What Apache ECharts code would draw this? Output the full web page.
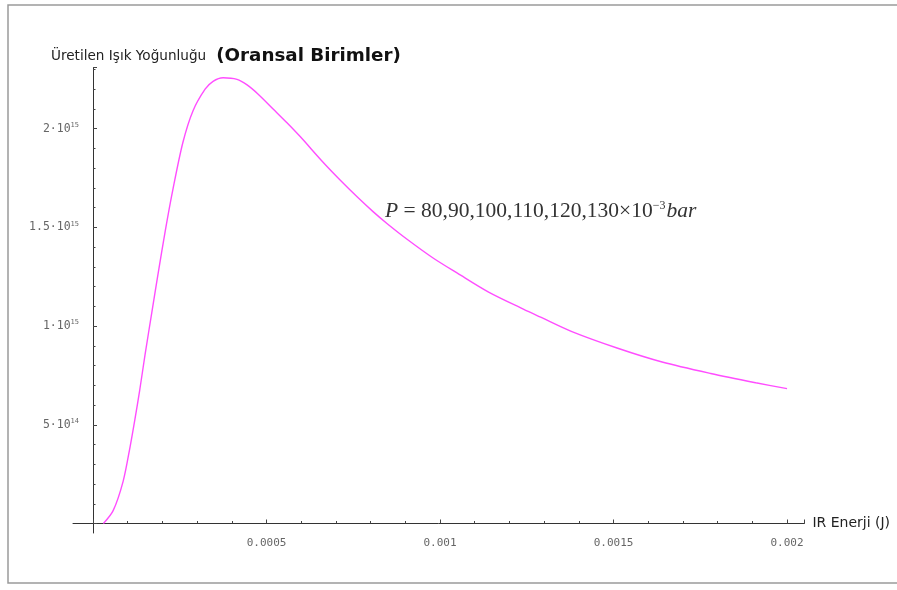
<!DOCTYPE html>
<html>
<head>
<meta charset="utf-8">
<script src="https://cdn.jsdelivr.net/npm/echarts@6/dist/echarts.min.js"></script>
<style>
  html, body { margin: 0; padding: 0; background: #fff; }
  #chart { width: 897px; height: 590px; }
</style>
</head>
<body>
<div id="chart"></div>
<script>
// IR energy (J) at each sampled point
const energyJ = [
  0.00003, 0.000058, 0.000087, 0.000107, 0.000121, 0.000135, 0.00015, 0.00017,
  0.000187, 0.000208, 0.00023, 0.000259, 0.000288, 0.000323, 0.000346, 0.000375,
  0.000415, 0.000444, 0.000476, 0.000519, 0.000559, 0.000597, 0.000663, 0.000712,
  0.000761, 0.000807, 0.000847, 0.000905, 0.00098, 0.00105, 0.00114, 0.00124,
  0.00129, 0.00138, 0.00151, 0.00164, 0.00178, 0.00191, 0.002
];
// Generated light intensity (relative units)
const intensity = [
  0, 0.065e15, 0.215e15, 0.39e15, 0.53e15, 0.68e15, 0.855e15, 1.075e15,
  1.26e15, 1.48e15, 1.69e15, 1.93e15, 2.09e15, 2.20e15, 2.24e15, 2.258e15,
  2.25e15, 2.222e15, 2.175e15, 2.10e15, 2.03e15, 1.96e15, 1.83e15, 1.74e15,
  1.655e15, 1.58e15, 1.52e15, 1.44e15, 1.345e15, 1.268e15, 1.172e15, 1.086e15,
  1.045e15, 0.972e15, 0.889e15, 0.818e15, 0.76e15, 0.713e15, 0.683e15
];

const xTickStep = 0.0005;
const yTickStep = 0.5e15;
const xMax = 0.00205;
const yMax = 2.31e15;

const yAxisTitle = 'Üretilen Işık Yoğunluğu';
const yAxisUnit = '(Oransal Birimler)';
const xAxisTitle = 'IR Enerji (J)';
const pressureNote = ['P', ' = 80,90,100,110,120,130×10', '−3', 'bar'];

const curve = energyJ.map((e, i) => [e, intensity[i]]);

function sciLabel(v) {
  if (v === 0) return '';
  const exp = Math.floor(Math.log10(v) + 1e-9);
  let mant = v / Math.pow(10, exp);
  mant = Math.round(mant * 100) / 100;
  return mant + '·10{sup|' + exp + '}';
}

const labelFont = '"DejaVu Sans Mono", "Liberation Mono", monospace';
const labelColor = '#666';
const tickColor = '#444';

const chart = echarts.init(document.getElementById('chart'), null, { renderer: 'canvas' });
chart.setOption({
  animation: false,
  backgroundColor: '#ffffff',
  title: {
    left: 46,
    top: 42,
    text: '{a|' + yAxisTitle + '}  {b|' + yAxisUnit + '}',
    textStyle: {
      fontWeight: 'normal',
      rich: {
        a: { fontFamily: '"DejaVu Sans", Verdana, sans-serif', fontSize: 13.6, fontWeight: 'normal', color: '#222', verticalAlign: 'bottom', padding: [0, 0, 2, 0] },
        b: { fontFamily: '"DejaVu Sans", Verdana, sans-serif', fontSize: 18.3, fontWeight: 'bold', color: '#111', verticalAlign: 'bottom' }
      }
    }
  },
  graphic: [
    {
      type: 'rect',
      silent: true,
      shape: { x: 8, y: 5, width: 900, height: 578 },
      style: { fill: 'none', stroke: '#9a9a9a', lineWidth: 1.5 }
    },
    {
      type: 'text',
      left: 385,
      top: 200,
      style: {
        text: '{i|' + pressureNote[0] + '}{n|' + pressureNote[1] + '}{s|' + pressureNote[2] + '}{i|' + pressureNote[3] + '}',
        rich: {
          i: { fontFamily: '"Liberation Serif", "DejaVu Serif", serif', fontStyle: 'italic', fontSize: 21.5, fill: '#333' },
          n: { fontFamily: '"Liberation Serif", "DejaVu Serif", serif', fontSize: 21.5, fill: '#333' },
          s: { fontFamily: '"Liberation Serif", "DejaVu Serif", serif', fontSize: 12, fill: '#333', verticalAlign: 'top', padding: [0, 1, 9, 0] }
        }
      }
    }
  ],
  grid: [
    // plotting grid: origin at (0,0)
    { left: 93, right: 92.6, top: 67.5, bottom: 66.5, containLabel: false },
    // axis-line grid: lines extend slightly past the origin
    { left: 73, right: 92.6, top: 67.5, bottom: 57, containLabel: false }
  ],
  xAxis: [
    {
      gridIndex: 0,
      type: 'value',
      min: 0,
      max: xMax,
      interval: xTickStep,
      axisLine: { show: false },
      splitLine: { show: false },
      axisTick: { show: true, inside: true, length: 4, lineStyle: { color: tickColor } },
      minorTick: { show: true, splitNumber: 5, length: 2.5, lineStyle: { color: tickColor } },
      axisLabel: {
        showMinLabel: false,
        showMaxLabel: false,
        margin: 14,
        fontFamily: labelFont,
        fontSize: 11,
        color: labelColor,
        formatter: v => (v === 0 ? '' : String(+v.toPrecision(6)))
      }
    },
    {
      gridIndex: 1,
      type: 'value',
      min: -0.0000576,
      max: xMax,
      axisLine: { show: true, onZero: true, lineStyle: { color: '#333', width: 1 } },
      axisTick: { show: false },
      axisLabel: { show: false },
      splitLine: { show: false },
      name: xAxisTitle,
      nameLocation: 'end',
      nameGap: 8,
      nameTextStyle: { fontFamily: '"DejaVu Sans", Verdana, sans-serif', fontSize: 14, color: '#222', verticalAlign: 'middle', padding: [0, 0, 6, 0] }
    }
  ],
  yAxis: [
    {
      gridIndex: 0,
      type: 'value',
      min: 0,
      max: yMax,
      interval: yTickStep,
      axisLine: { show: false },
      splitLine: { show: false },
      axisTick: { show: true, inside: true, length: 4, lineStyle: { color: tickColor } },
      minorTick: { show: true, splitNumber: 5, length: 2.5, lineStyle: { color: tickColor } },
      axisLabel: {
        showMinLabel: false,
        showMaxLabel: false,
        margin: 14,
        fontFamily: labelFont,
        fontSize: 11.5,
        color: labelColor,
        formatter: sciLabel,
        rich: {
          sup: { fontFamily: labelFont, fontSize: 7, color: labelColor, verticalAlign: 'top', padding: [0, 0, 7, 0] }
        }
      }
    },
    {
      gridIndex: 1,
      type: 'value',
      min: -0.0481e15,
      max: yMax,
      axisLine: { show: true, onZero: true, lineStyle: { color: '#333', width: 1 } },
      axisTick: { show: false },
      axisLabel: { show: false },
      splitLine: { show: false }
    }
  ],
  series: [
    {
      type: 'line',
      xAxisIndex: 0,
      yAxisIndex: 0,
      data: curve,
      smooth: 0.3,
      showSymbol: false,
      clip: false,
      lineStyle: { color: '#ff4dff', width: 1.4 }
    }
  ]
});
</script>
</body>
</html>
